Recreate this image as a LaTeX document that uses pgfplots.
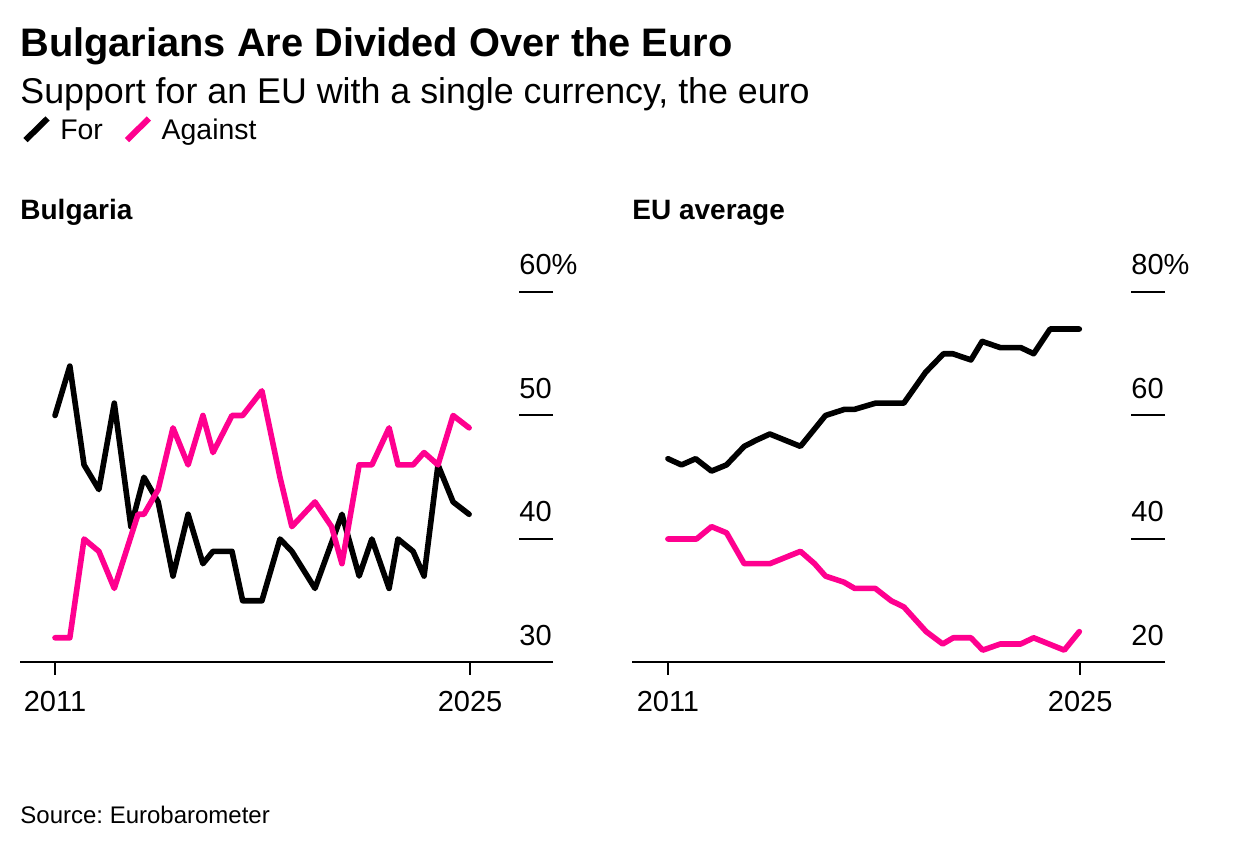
\documentclass[border=0pt]{standalone}
\usepackage{fontspec}
\setmainfont{Liberation Sans}
\usepackage{pgfplots}
\pgfplotsset{compat=1.18}
\definecolor{pinkc}{RGB}{255,0,143}
\frenchspacing

\pgfplotstableread{
year val
2011.00 50
2011.50 54
2011.98 46
2012.48 44
2013.00 51
2013.56 41
2014.00 45
2014.48 43
2014.98 37
2015.49 42
2015.99 38
2016.33 39
2016.97 39
2017.33 35
2017.98 35
2018.59 40
2018.99 39
2019.77 36
2020.68 42
2021.26 37
2021.69 40
2022.27 36
2022.57 40
2023.08 39
2023.45 37
2023.92 46
2024.43 43
2024.97 42
}\bgfor

\pgfplotstableread{
year val
2011.00 32
2011.50 32
2011.98 40
2012.48 39
2013.00 36
2013.80 42
2014.00 42
2014.48 44
2014.98 49
2015.49 46
2015.99 50
2016.33 47
2016.97 50
2017.33 50
2017.98 52
2018.59 45
2018.99 41
2019.77 43
2020.33 41
2020.68 38
2021.26 46
2021.69 46
2022.27 49
2022.57 46
2023.08 46
2023.45 47
2023.92 46
2024.43 50
2024.97 49
}\bgagainst

\pgfplotstableread{
year val
2011.00 53
2011.46 52
2011.94 53
2012.48 51
2012.99 52
2013.59 55
2014.00 56
2014.46 57
2015.50 55
2016.35 60
2017.00 61
2017.34 61
2018.05 62
2019.01 62
2019.75 67
2020.36 70
2020.67 70
2021.29 69
2021.67 72
2022.28 71
2022.98 71
2023.42 70
2023.98 74
2024.97 74
}\eufor

\pgfplotstableread{
year val
2011.00 40
2011.97 40
2012.48 42
2012.99 41
2013.59 36
2014.46 36
2015.50 38
2015.98 36
2016.35 34
2016.98 33
2017.34 32
2018.04 32
2018.58 30
2019.01 29
2019.77 25
2020.33 23
2020.69 24
2021.29 24
2021.69 22
2022.29 23
2022.98 23
2023.42 24
2024.46 22
2024.97 25
}\euagainst

\pgfplotsset{
  panel/.style={
    scale only axis, width=266.5pt, height=185.25pt,
    axis x line*=bottom, axis y line*=right,
    x axis line style={-, line width=1pt},
    y axis line style={draw=none},
    enlargelimits=false, clip=false,
    xtick={2011,2025},
    xticklabels={2011,2025},
    tick align=inside,
    xtick style={line width=1pt, black, /pgfplots/major tick length=-6.5pt},
    ytick style={line width=1pt, black, /pgfplots/major tick length=17pt},
    tick label style={font=\fontsize{14.5pt}{17pt}\selectfont},
    yticklabel style={anchor=base west, inner sep=0pt, xshift=-17pt, yshift=8.5pt},
    xticklabel style={anchor=base, inner sep=0pt, yshift=-24.6pt},
    every axis plot/.append style={line width=2.8pt, line join=round, line cap=round},
  }
}

\begin{document}
\begin{tikzpicture}[x=0.5pt,y=0.5pt]
\useasboundingbox (0,0) rectangle (1236,850);

\node[anchor=base west, inner sep=0pt] at (20,793)
  {\fontsize{19.9pt}{24pt}\selectfont\bfseries Bulgarians Are Divided Over the Euro};
\node[anchor=base west, inner sep=0pt] at (20,746.5)
  {\fontsize{17.9pt}{22pt}\selectfont Support for an EU with a single currency, the euro};
\node[anchor=base west, inner sep=0pt] at (20,630)
  {\fontsize{14pt}{17pt}\selectfont\bfseries Bulgaria};
\node[anchor=base west, inner sep=0pt] at (632,630)
  {\fontsize{14pt}{17pt}\selectfont\bfseries EU average};
\node[anchor=base west, inner sep=0pt] at (20,26)
  {\fontsize{12pt}{14pt}\selectfont Source: Eurobarometer};

\begin{axis}[panel,
  at={(10pt,93.75pt)}, anchor=south west,
  xmin=2009.819, xmax=2027.80, ymin=30, ymax=60,
  ytick={30,40,50,60}, yticklabels={30,40,50,60\%},
  legend columns=2,
  legend style={at={(rel axis cs:0.004,1.478)}, anchor=north west, draw=none, fill=none,
    inner sep=0pt, font=\fontsize{14.2pt}{17pt}\selectfont,
    /tikz/every even column/.append style={column sep=8.5pt}},
  legend image code/.code={\draw[#1, line width=3pt, line cap=butt] (0pt,-4.5pt) -- (11pt,6.3pt); \path (14pt,0pt);},
]
\addplot[black] table[x=year,y=val] {\bgfor};
\addplot[pinkc] table[x=year,y=val] {\bgagainst};
\legend{For, Against}
\end{axis}

\begin{axis}[panel,
  at={(316pt,93.75pt)}, anchor=south west,
  xmin=2009.78, xmax=2027.88, ymin=20, ymax=80,
  ytick={20,40,60,80}, yticklabels={20,40,60,80\%},
]
\addplot[black] table[x=year,y=val] {\eufor};
\addplot[pinkc] table[x=year,y=val] {\euagainst};
\end{axis}
\end{tikzpicture}
\end{document}
